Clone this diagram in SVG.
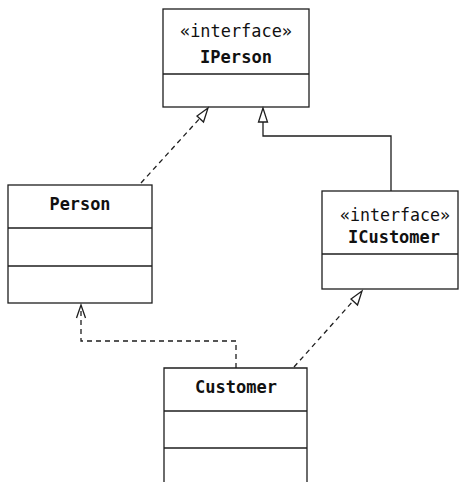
<svg xmlns="http://www.w3.org/2000/svg" width="459" height="482" viewBox="0 0 459 482">
  <style>
    .box { fill: #ffffff; stroke: #1e1e1e; stroke-width: 1.3; }
    .sep { stroke: #1e1e1e; stroke-width: 1.3; }
    .t { font-family: "DejaVu Sans Mono", "Liberation Mono", monospace; font-size: 17.5px; fill: #111111; text-anchor: middle; }
    .b { font-weight: bold; }
    .edge { fill: none; stroke: #1e1e1e; stroke-width: 1.3; }
    .dash { stroke-dasharray: 5 4; }
    .tri { fill: #ffffff; stroke: #1e1e1e; stroke-width: 1.3; stroke-linejoin: miter; }
    .vee { fill: none; stroke: #1e1e1e; stroke-width: 1.3; }
  </style>

  <g id="IPerson">
    <rect class="box" x="163" y="9" width="146" height="98"/>
    <line class="sep" x1="163" y1="74" x2="309" y2="74"/>
    <text class="t" x="236" y="37" textLength="112" lengthAdjust="spacingAndGlyphs">«interface»</text>
    <text class="t b" x="236" y="63" textLength="72" lengthAdjust="spacingAndGlyphs">IPerson</text>
  </g>

  <g id="Person">
    <rect class="box" x="8" y="185" width="144" height="118"/>
    <line class="sep" x1="8" y1="228" x2="152" y2="228"/>
    <line class="sep" x1="8" y1="266" x2="152" y2="266"/>
    <text class="t b" x="80" y="210" textLength="61" lengthAdjust="spacingAndGlyphs">Person</text>
  </g>

  <g id="ICustomer">
    <rect class="box" x="322" y="191" width="136" height="98"/>
    <line class="sep" x1="322" y1="254" x2="458" y2="254"/>
    <text class="t" x="395" y="221" textLength="110" lengthAdjust="spacingAndGlyphs">«interface»</text>
    <text class="t b" x="394" y="243" textLength="92" lengthAdjust="spacingAndGlyphs">ICustomer</text>
  </g>

  <g id="Customer">
    <path class="box" d="M164 482 V368 H307 V482"/>
    <line class="sep" x1="164" y1="411" x2="307" y2="411"/>
    <line class="sep" x1="164" y1="448" x2="307" y2="448"/>
    <text class="t b" x="236" y="393" textLength="82" lengthAdjust="spacingAndGlyphs">Customer</text>
  </g>

  <g id="connectors">
    <!-- ICustomer extends IPerson -->
    <path class="edge" d="M391 191 V136 H263 V122"/>
    <polygon class="tri" points="263,108 258.5,122 267.5,122"/>

    <!-- Person realizes IPerson -->
    <line class="edge dash" x1="141" y1="183" x2="201" y2="117"/>
    <polygon class="tri" points="208,108 197,116 203.5,122"/>

    <!-- Customer realizes ICustomer -->
    <line class="edge dash" x1="294" y1="367" x2="354" y2="300"/>
    <polygon class="tri" points="362,291 351,299 357.5,305"/>

    <!-- Customer depends on Person -->
    <path class="edge dash" d="M236 368 V341 H81 V306"/>
    <polyline class="vee" points="76.5,318 81,305 85.5,318"/>
  </g>
</svg>
